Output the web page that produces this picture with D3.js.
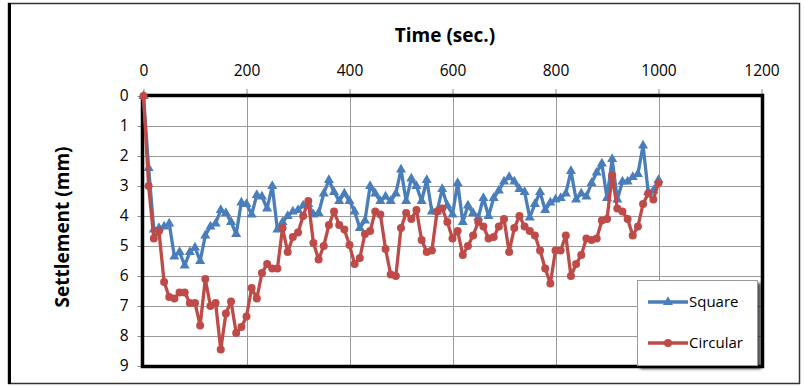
<!DOCTYPE html>
<html><head><meta charset="utf-8">
<script src="https://cdn.jsdelivr.net/npm/d3@7"></script>
<style>
html,body{margin:0;padding:0;background:#fff;}
text{font-family:"Open Sans",sans-serif;}
</style></head>
<body><svg id="c" width="804" height="387"></svg>
<script>
const xTicks = [0,200,400,600,800,1000,1200];
const yTicks = [0,1,2,3,4,5,6,7,8,9];
const time = d3.range(0,1001,10);
const square = [0,2.4,4.45,4.4,4.35,4.25,5.35,5.2,5.65,5.2,
 5.05,5.5,4.65,4.35,4.25,3.8,3.9,4.2,4.6,3.55,
 3.6,3.95,3.3,3.35,3.75,3.0,4.45,4.2,4.0,3.85,
 3.8,3.65,3.6,3.95,3.9,3.25,2.8,3.2,3.5,3.25,
 3.5,3.85,4.4,4.15,3.0,3.25,3.5,3.35,3.5,3.25,
 2.45,3.5,2.75,3.0,3.5,2.8,3.85,3.85,3.1,3.65,
 3.95,2.9,4.2,3.65,3.9,4.05,3.4,4.0,3.4,3.15,
 2.85,2.7,2.85,3.1,3.2,4.05,3.6,3.2,3.8,3.55,
 3.45,3.4,3.25,2.5,3.45,3.25,3.35,2.9,2.55,2.25,
 3.4,2.1,3.45,2.85,2.85,2.7,2.6,1.65,3.2,3.15,2.8];
const circular = [0,3.0,4.75,4.5,6.2,6.7,6.75,6.55,6.55,6.9,
 6.9,7.65,6.1,7.0,6.9,8.45,7.25,6.85,7.9,7.7,
 7.35,6.4,6.75,5.9,5.6,5.75,5.75,4.4,5.2,4.7,
 4.55,4.0,3.5,4.9,5.45,5.0,4.3,3.85,4.3,4.45,
 4.97,5.6,5.4,4.6,4.5,3.85,3.95,5.1,5.95,6.0,
 4.4,3.9,4.1,3.8,4.8,5.2,5.15,3.85,3.75,4.2,
 4.75,4.5,5.3,5.0,4.65,4.2,4.35,4.75,4.7,4.35,
 4.1,5.2,4.4,4.0,4.35,4.5,4.65,5.15,5.75,6.25,
 5.15,5.15,4.65,6.0,5.6,5.3,4.75,4.8,4.75,4.15,
 4.1,2.65,3.75,3.85,4.1,4.65,4.35,3.6,3.25,3.45,2.9];
const seriesNames = ["Square","Circular"];
const colors = ["#4A7EBB","#BE4B48"];

const svg = d3.select("#c");
const W=804,H=387;
svg.append("rect").attr("width",W).attr("height",H).attr("fill","#fff");
const defs = svg.append("defs");
const f = defs.append("filter").attr("id","sh").attr("x","-20%").attr("y","-20%").attr("width","150%").attr("height","150%");
f.append("feDropShadow").attr("dx",3).attr("dy",3).attr("stdDeviation",1.5).attr("flood-color","#000").attr("flood-opacity",0.7);

// outer frame
svg.append("rect").attr("x",8.5).attr("y",3.5).attr("width",791).attr("height",380)
  .attr("fill","none").attr("stroke","#333").attr("stroke-width",1.5);
svg.append("line").attr("x1",9.5).attr("x2",9.5).attr("y1",3).attr("y2",384).attr("stroke","#000").attr("stroke-width",3);

const x = d3.scaleLinear().domain([0,1200]).range([143.5,761.5]);
const y = d3.scaleLinear().domain([0,9]).range([96,366]);

// gridlines
svg.append("g").selectAll("line").data(yTicks.slice(1,-1)).join("line")
  .attr("x1",x(0)).attr("x2",x(1200)).attr("y1",d=>Math.round(y(d))+0.5).attr("y2",d=>Math.round(y(d))+0.5)
  .attr("stroke","#9a9a9a").attr("stroke-width",1);
svg.append("g").selectAll("line").data(xTicks.slice(1,-1)).join("line")
  .attr("y1",y(0)).attr("y2",y(9)).attr("x1",d=>Math.round(x(d))+0.5).attr("x2",d=>Math.round(x(d))+0.5)
  .attr("stroke","#9a9a9a").attr("stroke-width",1);

// axes
const ax = svg.append("g").attr("transform",`translate(0,${y(0)})`)
  .call(d3.axisTop(x).tickValues(xTicks).tickSize(7).tickPadding(13).tickFormat(d3.format("d")));
const ay = svg.append("g").attr("transform",`translate(${x(0)},0)`)
  .call(d3.axisLeft(y).tickValues(yTicks).tickSize(6).tickPadding(9).tickFormat(d3.format("d")));
[ax,ay].forEach(g=>{
  g.select(".domain").remove();
  g.selectAll(".tick line").attr("stroke","#8a8a8a");
  g.selectAll(".tick text").attr("fill","#000").style("font-size","15.5px").style("font-family","'Open Sans',sans-serif");
});

// plot border
svg.append("rect").attr("x",x(0)-1).attr("y",y(0)-0.5).attr("width",x(1200)-x(0)+2).attr("height",y(9)-y(0)+1)
  .attr("fill","none").attr("stroke","#000").attr("stroke-width",3.5);

// series
const data = [square, circular];
const line = d3.line().x((d,i)=>x(time[i])).y(d=>y(d));
const tri = d3.symbol().type(d3.symbolTriangle).size(44);
data.forEach((vals,si)=>{
  const g = svg.append("g");
  g.append("path").datum(vals).attr("d",line).attr("fill","none")
    .attr("stroke",colors[si]).attr("stroke-width",3.3).attr("stroke-linejoin","round");
  if(si===0){
    g.selectAll("path.m").data(vals).join("path").attr("class","m")
      .attr("d",tri).attr("transform",(d,i)=>`translate(${x(time[i])},${y(d)})`).attr("fill",colors[si]);
  } else {
    g.selectAll("circle").data(vals).join("circle")
      .attr("cx",(d,i)=>x(time[i])).attr("cy",d=>y(d)).attr("r",4).attr("fill",colors[si]);
  }
});

// titles
svg.append("text").attr("x",445).attr("y",42).attr("text-anchor","middle")
  .style("font-size","19px").style("font-weight","bold").text("Time (sec.)");
svg.append("text").attr("transform","translate(69,227) rotate(-90)").attr("text-anchor","middle")
  .style("font-size","19px").style("font-weight","bold").text("Settlement (mm)");

// legend
const lg = svg.append("g");
lg.append("rect").attr("x",637.5).attr("y",280.5).attr("width",120).attr("height",85)
  .attr("fill","#fff").attr("stroke","#999").attr("stroke-width",1).attr("filter","url(#sh)");
const ly = [302,343];
seriesNames.forEach((n,i)=>{
  lg.append("line").attr("x1",648).attr("x2",688).attr("y1",ly[i]).attr("y2",ly[i])
    .attr("stroke",colors[i]).attr("stroke-width",3.3);
  if(i===0) lg.append("path").attr("d",tri).attr("transform",`translate(668,${ly[i]})`).attr("fill",colors[i]);
  else lg.append("circle").attr("cx",668).attr("cy",ly[i]).attr("r",4).attr("fill",colors[i]);
  lg.append("text").attr("x",689).attr("y",ly[i]).attr("dy","0.35em").style("font-size","15px").text(n);
});
</script></body></html>
